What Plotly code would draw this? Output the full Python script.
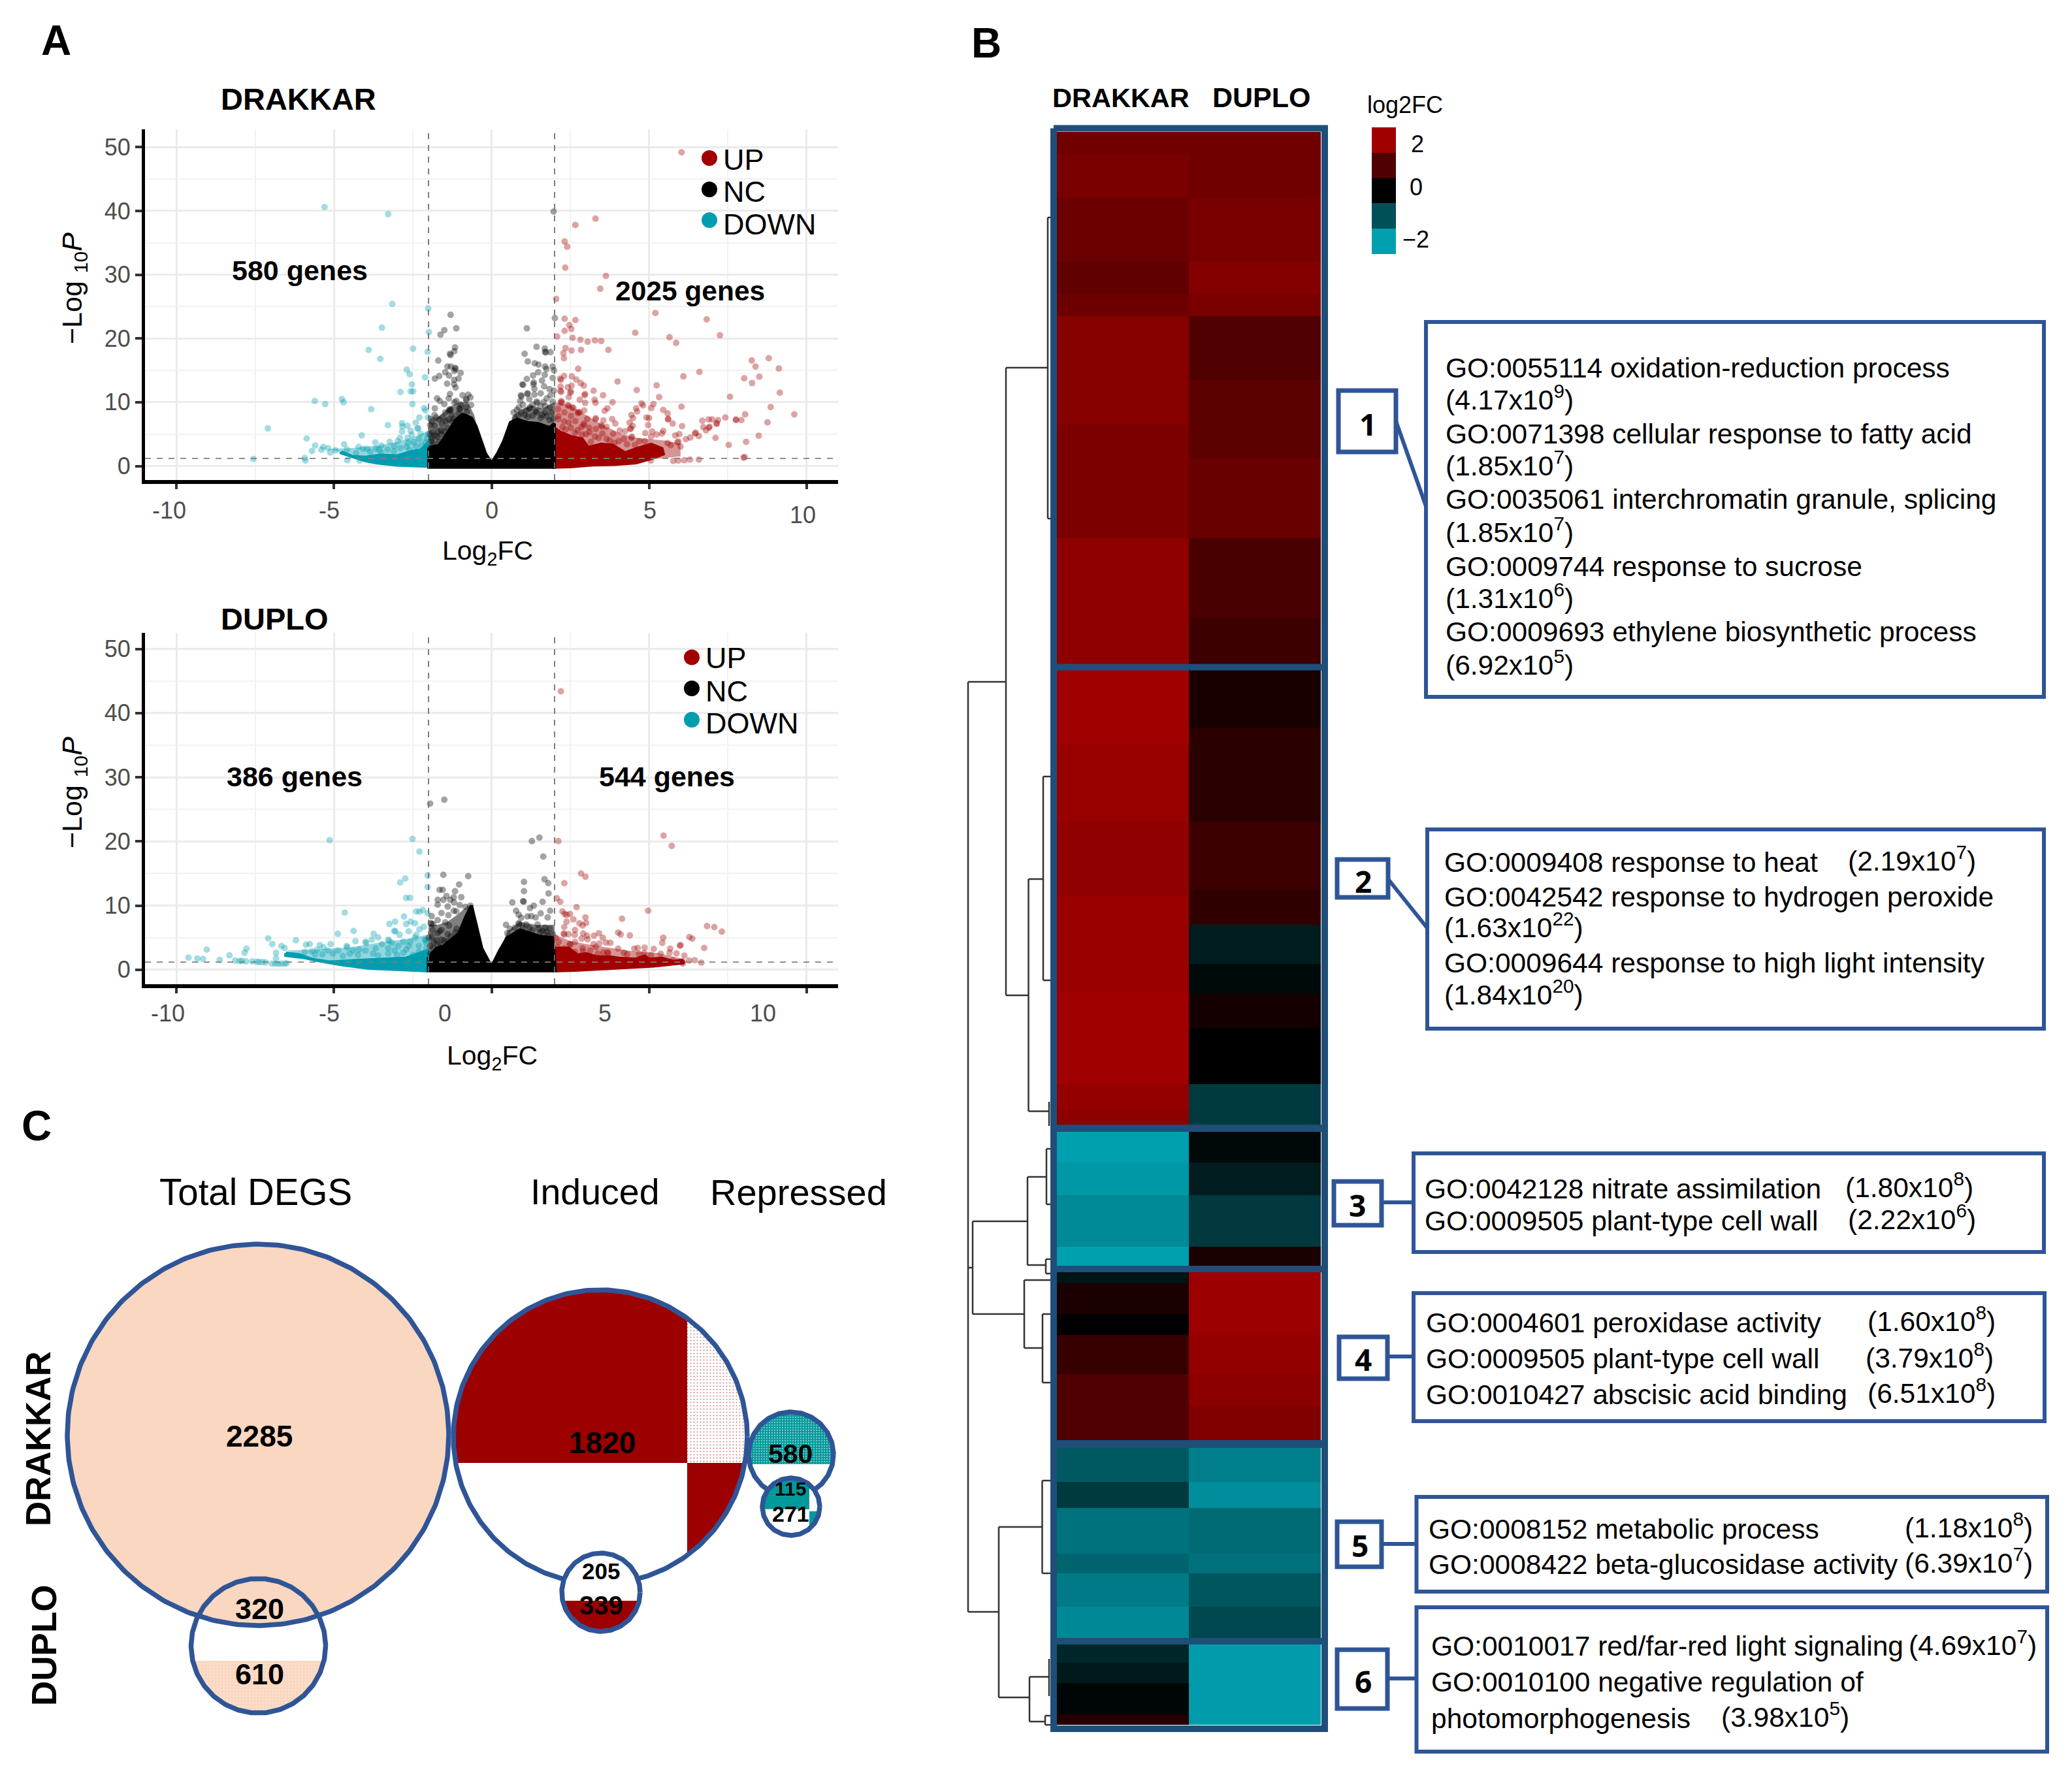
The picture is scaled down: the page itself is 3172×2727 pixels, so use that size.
import numpy as np
import plotly.graph_objects as go

W, H = 3172, 2727
FONT = "Liberation Sans"
RED = "#A00000"
TEAL = "#009DB0"
BLUE = "#2F5597"
NAVY = "#1F4E79"

# ---------- Panel A data (log2FC, -log10 P) ----------
x_ticks = [-10, -5, 0, 5, 10]
y_ticks = [0, 10, 20, 30, 40, 50]
fc_cut = [-2, 2]
p_cut_drakkar = 1.2
p_cut_duplo = 1.2

drakkar_up = [(6.03,49.2),(3.30,38.8),(2.66,37.8),(2.32,35.2),(2.40,34.4),(2.34,31.1),(3.63,29.8),(3.45,27.8),(2.05,26.2),
 (5.2,24),(6.83,23),(2.32,23.1),(2.66,22.9),(2.47,22.1),(2.53,21.5),(2.32,21.2),(4.56,20.9),(7.25,20.5),
 (5.65,20.2),(5.86,19.3),(2.08,20.3),(2.57,20.1),(2.82,19.8),(3.05,19.5),(3.28,19.7),(3.48,19.6),(3.71,18.2),(2.84,18.2),(2.54,18.1),(2.35,18.5),(2.28,17.7),(2.30,16.9),(2.75,15.25),
 (8.26,16.55),(8.80,16.9),(8.38,15.6),(9.12,15.3),(8.02,13.75),(8.50,14.0),(8.27,13.0),(9.15,11.5),(8.86,9.25),(9.61,8.1),(8.76,6.85),(8.48,4.75),(8.08,3.8),(8.05,8.1),(7.93,7.2),(7.76,7.3),(7.76,7.2),(7.57,10.85),(7.42,7.6),(7.53,3.3),(8.03,1.4),(8.0,1.3),
 (6.6,14.75),(6.09,14.05),(5.24,12.65),(5.32,10.8),(4.61,11.9),(4.0,13.25),(6.03,9.3),(5.45,8.8),(5.59,8.25),(5.61,7.4),(5.6,7.3),(5.75,6.65),(6.05,6.25),(5.14,9.7),(5.07,9.1),(4.76,9.8),(4.81,9.5),(4.59,9.05),(4.62,8.55),(4.44,8),(4.49,7.5),(4.92,7.6),(5,7.5),(4.38,6.8),(4.97,6.4),(4.48,6.3),(4.42,5.9),(4.4,5.8),(4.88,5.15),(5.1,5.4),(5.45,5.5),(5.41,5.1),(5.24,4.95),(5.07,4.6),
 (6.69,7.1),(6.89,7.3),(7,7.3),(7.19,7.2),(7.15,6.7),(7.14,6.6),(6.72,6.1),(6.92,6.15),(6.9,6.0),(6.81,5.6),(6.48,5.2),(6.46,5.1),(6.58,4.7),(7.11,4.4),(6.31,4.45),(6.17,4.2),(5.96,5.0),(5.83,4.8),(5.93,3.85),(5.9,3.7),(6,3.05),(5.59,3.6),(5.69,3.25),
 (5.77,.8),(5.93,.85),(6.12,.9),(6.3,1.0),(6.58,1.0),(5.06,.85),
 (3.54,11.1),(3.24,11.8),(2.97,11.3),(2.95,11.1),(3.27,10.4),(3.3,9.9),(3.84,10),(3.68,9.05),(3.59,8.65),(2.97,9.9),(2.8,10.4),(2.55,14.05),(2.3,14.1),(2.18,13.7),(2.2,13.5),(2.69,13.55),(2.83,13),(2.93,12.6),(2.54,12.6),(2.42,12.35),(2.19,12.45),(2.19,11.8),(2.21,11.6),(2.52,11.7),(2.5,11.5),(2.45,10.8),(2.21,10.2),(2.23,10.0),(2.2,9.9),(2.42,9.55),(2.45,9.4),(2.56,9.2),(2.6,9.1),(2.11,8.9),(2.76,8.45),(2.74,8.3),(2.8,8.4),(2.94,8.7),(2.31,8.4),(2.52,7.85),(2.11,7.35),(2.66,7.05),(3.04,7.4),(3.31,7.5),(3.3,7.3),(3.55,7.15),(3.83,7.35),(3.93,6.65),(2.94,6.65),(2.92,6.4),(3.48,6.4),(3.5,6.2),(3.65,6.15),(3.31,5.8),(2.52,6),(2.73,5.6),(2.25,6.1),(4.07,5.55),(4.24,5.45),(3.86,5.05),(3.11,5.3),(3.52,5.1),(4.2,4.25),(4.46,4.6),(4.44,4.4),(4.69,3.9),(4.86,3.9),(4.04,3.9),(3.65,4.25),(3.28,4.6),(2.87,4.95),
 (2.12,7.8),(2.3,7.0),(2.45,6.8),(2.85,6.1),(3.1,6.0),(2.35,5.7),(2.65,5.2),(3.0,5.0),(3.4,4.4),(3.75,4.0),(4.3,3.4),(4.55,3.3),(3.9,3.6),(3.15,3.8)]
drakkar_up_core = [(1.97,6),(2.18,5.3),(2.52,4.6),(2.87,4.25),(3.07,2.9),(3.48,3.4),(3.84,3.25),(4.24,2.05),(4.59,2.7),(5.07,3.4),(5.41,2.7),(5.45,1.9),(5.07,1.2),(4.59,.5),(3.9,.25),(3.2,.17),(2.52,-.1),(1.97,-.17)]
drakkar_up_cloud = [(2,10),(2.5,9.5),(3,8),(3.5,6.5),(4,5.3),(4.5,4.5),(5,4.2),(5.5,4),(6,3.5),(6,1.5),(5,1),(2,0)]

drakkar_down = [(-5.30,40.6),(-3.28,39.5),(-3.15,25.4),(-3.48,21.7),(-3.90,18.2),(-3.53,16.8),(-2.49,18.4),(-2.03,17.9),(-1.99,21.0),(-2.01,24.7),
 (-2.69,15.1),(-2.60,14.4),(-2.11,13.9),(-2.53,12.8),(-2.89,11.6),(-2.57,11.7),(-2.49,11.7),(-5.61,10.2),(-5.28,9.7),(-4.75,10.5),(-4.70,10.0),(-2.51,9.7),(-3.82,8.9),(-2.14,9.1),(-2.10,8.7),(-2.29,7.6),(-2.02,7.6),(-3.29,6.4),(-2.84,6.7),(-2.83,6.2),(-2.67,6.3),(-2.40,6.8),(-2.35,5.9),(-2.33,5.9),(-4.12,4.8),(-5.87,4.3),(-7.1,5.9),(-7.56,1.1),
 (-2.84,5.4),(-2.57,5.5),(-2.25,5.05),(-2.53,4.9),(-2.91,4.4),(-3.23,3.8),(-2.67,4.4),(-3.69,3.7),(-4.68,3.4),(-5.6,3.2),(-5.7,2.35),(-5.4,2.55),(-5.34,3.0),(-5.19,2.8),(-4.96,2.45),(-5.12,2.1),(-5.93,1.26),(-5.91,.85),(-4.59,2.6),(-4.22,3.0),(-4.08,2.7),(-3.5,3.2),(-3.67,2.7),(-3.57,2.55),(-3.09,3.1),(-2.98,3.9),(-2.22,3.2),(-2.47,3.75),(-2.65,3.6),(-2.05,4.3),(-2.02,5.0),(-4.58,.9),(-4.19,.85),
 (-3.3,2.6),(-2.9,2.8),(-2.7,3.0),(-2.4,3.1),(-2.1,3.7),(-3.85,2.2),(-4.3,2.0),(-2.3,4.2),(-2.6,2.5),(-3.1,2.3),(-3.5,2.1),(-3.95,2.7)]
drakkar_down_core = [(-4.77,2.2),(-4.43,1.5),(-4.0,1.35),(-3.53,1.7),(-2.98,1.6),(-2.57,2.2),(-2.22,2.55),(-1.98,3.9),(-1.98,-.05),(-2.57,.05),(-3.0,.15),(-3.67,.5),(-4.0,.85),(-4.43,1.5),(-4.77,2.05)]
drakkar_down_cloud = [(-5.2,2.7),(-4.5,2.8),(-4,3),(-3.5,3.3),(-3,3.8),(-2.5,4.5),(-2,5.5),(-2,0),(-4,.9)]

drakkar_nc = [(1.97,39.9),(2.01,23.2),(-1.5,21.3),(-1.62,20.6),(-1.12,21.6),(1.12,21.6),(-1.16,18.6),(-1.18,18.0),(-1.32,17.6),(-1.30,17.4),(-1.69,16.55),(-1.3,23.7),
 (1.43,18.7),(1.69,18.4),(1.70,17.9),(1.72,17.8),(1.87,17.85),(1.05,17.6),(1.15,16.4),(1.37,16.1),(1.49,15.9),(1.70,15.6),(1.94,15.6),(1.74,15.2),(1.98,15.0),
 (-1.40,15.6),(-1.29,15.6),(-1.16,15.4),(-1.14,15.2),(-1.18,14.9),(-1.47,14.7),(-1.35,14.2),(-.98,14.6),(-1.66,14.1),(-1.80,13.7),(-1.05,13.7),(-1.19,13.5),(-1.41,12.9),(-1.19,12.8),(-1.14,12.3),
 (1.48,14.7),(1.32,14.2),(1.69,14.3),(1.12,13.65),(1.34,13.1),(1.33,12.8),(1.60,13.4),(1.94,13.8),(.98,12.8),(1.0,12.7),(1.36,12.1),(1.67,12.5),(1.84,12.05),(1.15,11.4),(1.13,11.3),(.93,11.1),(.95,10.9),(1.36,11.2),(1.56,11.4),(1.87,11.1),(1.98,11.8),
 (-1.32,11.3),(-1.36,10.6),(-1.73,10.6),(-1.64,10.2),(-.74,11.2),(-.92,11.1),(-.67,10.75),(-.81,10.5),(-.8,10.3),(-1.12,10.2),(-1.5,9.7),(-1.18,10),(-.98,9.65),(-.65,9.55),(-1.8,9.05),(-1.33,8.9),(-1.3,8.8),(-1.35,8.7),(-1.02,9.05),(-1.0,8.9),(-.81,9.2),(-.78,8.5),
 (.91,10.2),(1.43,10.1),(1.45,9.9),(.87,9.2),(1.22,9.2),(1.2,9.0),(1.7,9.4),(1.94,10.1),(.70,8.4),(.94,8.4),(1.43,8.4),(1.4,8.6),(1.70,8.4),(1.91,8.4),
 (-1.81,8.0),(-1.47,8.4),(-1.67,7.3),(-1.88,7),(-1.26,8.0),(-1.36,7.3),(-1.57,6.65),(-1.81,6.3),(-1.4,6),(-1.88,5.3),(-1.6,5.6),(-1.74,4.6),(-1.91,4.3),(-1.67,3.9),(-1.85,3.4),
 (-1.75,7.6),(-1.55,7.6),(-1.2,7.4),(-1.95,6.4),(-1.7,5.4),(-1.5,5.4),(-1.95,5.0),(-1.8,4.8),(-1.6,4.9),(-1.45,7.0),(-1.9,3.9),(-1.25,7.0),(-1.05,8.2),
 (.74,7.5),(1.15,7.7),(1.56,7.5),(1.84,7.2),(.85,7.9),(1.3,7.9),(1.6,8.0),(1.05,8.0),(1.95,7.4),(1.75,7.8),(1.0,9.6),(1.55,9.4),(.8,8.8),(1.1,8.7),(1.3,9.6),(1.85,9.2),(1.65,10.0),(1.2,10.5),(1.75,10.6)]
drakkar_nc_core = [(-1.99,2.9),(-1.67,3.2),(-1.47,4.6),(-1.29,6.0),(-1.12,7.3),(-.92,8.1),(-.64,7.5),(-.50,6.3),(-.37,4.3),(-.19,1.9),(0,.45),(.19,1.9),(.39,3.9),(.60,6.8),(.81,7.3),(1.15,6.8),(1.49,6.65),(1.84,6.0),(1.99,6.65),(1.99,-.17),(-1.99,-.17)]
drakkar_nc_cloud_left = [(-2,8),(-1.75,7.5),(-1.5,8.5),(-1.25,9.5),(-1,10),(-.75,10),(-.55,8),(-.37,4.3),(-.5,0),(-2,0)]
drakkar_nc_cloud_right = [(.39,3.9),(.7,8),(1,9),(1.3,9.5),(1.6,9),(2,10),(2,0),(.39,0)]

duplo_up = [(2.2,43.4),(5.46,20.9),(5.72,19.3),(2.12,20.05),(2.84,15),(2.98,14.5),(2.31,13.5),(2.07,11.15),(2.18,10.6),(2.7,9.75),(4.97,9.2),(2.25,9.1),(2.32,8.7),(2.38,8.55),(2.49,8.7),(4.14,7.95),(2.98,8.15),(2.6,7.85),(2.38,7.5),(3,7.3),(2.79,7.25),(2.89,6.9),(2.31,6.65),(2.65,6.2),(2.29,5.65),(2.31,5.5),(2.44,5.55),(2.64,5.45),(2.91,5.65),(3.03,5.3),(3.05,4.75),(2.86,4.85),(3.25,5.3),(3.41,5.7),(3.53,5),(4.02,5.8),(4.1,5.5),(4.39,5.35),(3.63,4.25),(3.77,4.2),(3.42,4.1),(3.24,4),(3.31,3.55),
 (6.84,6.8),(7.07,6.65),(7.31,5.95),(6.28,5.1),(6.37,4.85),(5.45,5),(5.42,4.2),(6,3.85),(5.98,3.75),(6.75,3.4),(5.67,3.3),(5.15,3.25),(4.86,3.45),(4.53,3.3),(4.64,3.4),(4.02,3.3),(3.68,2.7),(3.7,2.6),(4.2,2.65),(4.68,2.5),(5.06,2.3),(5.37,2.5),(5.65,2.65),(5.87,2.55),(6.12,2.2),(5.75,1.45),(6.45,1.5),(6.27,1.45),(6.06,1.3),(6.05,1.2),(6.66,1.1),(6.07,.95),
 (2.13,4.35),(2.48,4),(2.5,3.9),(2.65,4.35),(2.1,3.5),(2.31,3.35),(2.65,2.8),(2.89,3.35),(3.13,3),(3.37,2.5),(2.03,5),(2.9,2.9),(3.55,2.7),(4.3,2.4),(4.85,2.6)]
duplo_up_core = [(2.02,3.35),(2.45,3.35),(2.72,2.3),(3,2.5),(3.34,2),(3.75,2),(4.03,1.8),(4.58,1.65),(4.86,2.15),(5,1.65),(5.41,1.8),(5.75,1.3),(6.03,1.45),(6.1,1.1),(5.15,.6),(4.58,.45),(3.55,.1),(2.65,-.07),(1.98,-.15)]
duplo_up_cloud = [(2,5.5),(2.5,4.5),(3,4),(3.5,3.6),(4.5,2.9),(5.3,2.6),(6,1.8),(6,1),(5,.5),(2,0)]

duplo_down = [(-5.14,20.2),(-2.51,20.4),(-2.29,18.4),(-2.74,14.2),(-2.9,13.6),(-2.03,14.7),(-2.03,12.9),(-2.71,11.2),(-2.59,11.2),(-4.66,8.9),(-2.39,9.1),(-2.29,9.05),(-2.18,9.3),(-2.03,8.8),(-2.78,8.3),(-3.06,7.5),(-3.24,7.15),(-2.57,7.5),(-2.43,7.25),(-2.71,7.15),(-3.09,6.05),(-3.05,6.0),(-2.29,6.3),(-2.15,6.7),(-2.63,6),(-2.39,5.45),(-2.92,5.45),(-4.38,6.05),(-4.88,5.6),(-3.74,5.6),(-7.09,4.9),(-6.96,4.0),(-6.67,3.7),(-6.57,3.4),(-6.21,4.6),(-9.04,3.15),(-7.78,3.3),(-7.84,2.65),(-8.32,2.25),(-9.62,1.9),(-9.34,1.75),(-9.16,1.7),(-8.63,1.55),(-6.84,2.65),(-6.84,1.8),
 (-5.89,3.9),(-5.77,4),(-5.45,3.85),(-5.11,4),(-5.33,3.5),(-4.6,3.7),(-4.58,3.5),(-4.32,4.45),(-4,4.35),(-3.98,4.2),(-4.2,3.15),(-3.6,5.05),(-3.8,4.7),(-3.28,4.7),(-3.25,4.5),(-3.16,4.2),(-3.48,4),(-2.8,4.35),(-2.59,4.35),(-2.43,5),(-2.11,4.7),(-2.09,4.6),(-2.07,4.2),(-2.31,3.7),(-2.63,3.7),(-2.96,3.7),(-3.28,3.35),(-3.68,3.35),(-4,3),(-4.4,3),(-4.88,3),(-5.2,3),(-5.53,3.15),(-5.93,2.8),(-4.72,2.15),(-4.24,2.3),(-3.76,2.5),(-3.28,2.5),(-2.8,2.65),(-2.31,2.8),(-2.07,3.3),(-2.71,3.15),(-3.08,3),(-5.04,2.5),(-5.37,2.4),
 (-6.97,.95),(-6.87,.95),(-6.77,.9),(-6.67,.95),(-6.57,.95),(-6.5,1.0),(-7.37,1.2),(-7.27,1.2),(-7.17,1.15),(-7.6,1.3),(-7.93,1.4),(-8.14,1.45),(-7.8,1.3),(-8.0,1.35),(-7.45,1.25),(-3.6,2.2),(-3.0,2.3),(-2.5,2.3),(-4.5,2.5),(-5.7,2.9),(-5.6,2.4),(-2.2,2.2),(-2.05,2.6)]
duplo_down_core = [(-6.53,2.6),(-6.09,2.3),(-5.73,1.65),(-5.12,1.2),(-4.32,1.45),(-3.52,1.65),(-2.71,1.8),(-2.03,3.0),(-2.03,-.15),(-3.12,.1),(-3.92,.27),(-4.72,.78),(-5.37,1.3),(-5.93,1.9),(-6.53,2.25)]
duplo_down_cloud = [(-6.5,3),(-5.5,3.2),(-4.5,3.5),(-3.5,4.3),(-2.7,4.8),(-2,5.5),(-2,0),(-4,.3),(-5.4,1.4)]

duplo_nc = [(-1.53,14.8),(-.74,14.6),(-1.03,13.3),(-1.65,12.45),(-1.55,12.45),(-1.16,12.25),(-1.43,11.5),(-1.71,10.9),(-1.53,10.9),(-1.2,11.3),(-.96,11.3),(-1.31,10.9),(-1.71,10.15),(-1.39,9.85),(-1.19,10.5),(-1.01,10.1),(-.83,9.8),(-.67,10),(-1.2,9.2),(-1.59,8.85),(-1.12,9.1),(-1.9,8.35),(-1.37,8.5),(-1.71,7.75),(-1.47,7.4),(-1.91,7.2),(-1.35,6.9),(-1.59,6.2),(-1.87,6.2),(-1.11,6.4),(-1.71,5.7),(-1.99,5),(-1.39,5.55),(-1.83,4.35),(-1.59,4.7),(-1.95,3.7),(-1.71,3.85),(-1.95,2.5),(-1.5,26.5),(-1.95,25.9),
 (-1.93,7.25),(-1.85,7.1),(-1.65,6.0),(-1.3,5.2),(-1.9,5.2),(-1.75,4.6),(-1.5,4.6),(-1.85,3.4),(-1.6,3.9),(-1.4,4.4),(-1.15,5.8),
 (1.28,20.05),(1.52,20.6),(1.64,17.65),(1.03,13.7),(1.68,14.1),(1.8,13.5),(1.03,12.25),(1.81,11.9),(1,10.7),(1.02,10.6),(.66,10.5),(1.62,10.6),(1.34,10),(1.22,9.6),(.78,9.2),(1.86,9.2),(1.56,8.8),(.86,8.6),(1.14,8.3),(1.26,8.35),(1.4,8.15),(.94,8.1),(1.78,8.15),(.86,7.25),(.88,7.1),(.46,7),(1.1,7.05),(1.46,7.05),(.58,6.4),(1.7,6.55),(1.94,5.55),(1.62,6.05),(1.3,6.2),(.74,6.55),(.5,5.7),(1.78,5.4),
 (1.0,6.6),(1.2,6.5),(1.5,6.4),(1.85,6.4),(1.55,5.8),(1.75,5.9)]
duplo_nc_core = [(-2.0,1.97),(-1.75,3.3),(-1.51,3.7),(-1.27,4.7),(-1.03,5.7),(-.83,8.1),(-.64,10),(-.51,7.4),(-.31,3.3),(0,.45),(.26,3),(.5,5),(.9,6.2),(1.22,5.7),(1.54,5.2),(1.94,5),(2.02,-.15),(-2.0,-.15)]
duplo_nc_cloud_left = [(-2,7),(-1.7,7),(-1.4,7.5),(-1.1,8.5),(-.75,10),(-.5,7),(-.31,3.3),(-.31,0),(-2,0)]
duplo_nc_cloud_right = [(.26,3),(.5,6),(.9,7.5),(1.4,7),(2,7),(2,0),(.26,0)]

legend_names = ["UP", "NC", "DOWN"]

# ---------- Panel B data ----------
drakkar_edges = [202,235,302,400,449,484,650,824,1026,1140,1258,1373,1520,1660,1700,1733,1780,1830,1909,1948,1965,2012,2044,2104,2217,2269,2309,2379,2409,2460,2518,2546,2577,2625,2641]
drakkar_log2fc = [1.4,1.5,1.32,1.2,1.35,1.68,1.55,1.78,2.0,1.9,1.8,1.92,2.0,1.85,1.75,-2.0,-1.9,-1.72,-2.0,-.25,.32,.03,.68,1.0,-1.1,-.72,-1.43,-1.25,-1.52,-1.7,-.48,-.32,-.07,.45]
duplo_edges = [202,302,400,449,484,582,702,824,947,1026,1115,1258,1362,1416,1476,1522,1574,1660,1733,1780,1830,1909,1948,2044,2104,2152,2217,2269,2309,2379,2409,2460,2518,2641]
duplo_log2fc = [1.4,1.5,1.65,1.52,1.0,1.15,1.3,.9,.75,.3,.52,.75,.6,-.35,-.12,.25,0,-.72,-.1,-.35,-.7,.32,1.95,1.85,1.75,1.6,-1.58,-1.78,-1.32,-1.41,-1.07,-.9,-1.95]
legend_steps = [2, 1, 0, -1, -2]

# dendrogram branches: (x0, y0, x1, y1)
dendro = [(1604,333,1604,794),(1604,333,1608,333),(1604,794,1608,794),(1540,563,1604,563),(1540,563,1540,1524),(1482,1044,1540,1044),(1482,1044,1482,2468),
 (1540,1524,1574.5,1524),(1574.5,1346,1574.5,1701.5),(1574.5,1346,1597,1346),(1597,1189,1597,1501),(1597,1189,1608,1189),(1597,1501,1608,1501),(1574.5,1701.5,1606,1701.5),(1606,1687,1606,1724),
 (1573,1802,1602,1802),(1602,1759,1602,1844),(1602,1759,1608,1759),(1602,1844,1608,1844),(1573,1802,1573,1937),(1573,1937,1601,1937),(1601,1928,1601,1950),(1601,1928,1608,1928),(1601,1950,1608,1950),
 (1489,1870,1573,1870),(1489,1870,1489,2012),(1489,2012,1568,2012),(1482,1941,1489,1941),(1568,1960,1568,2064),(1568,1960,1608,1960),(1568,2064,1596,2064),(1596,2012,1596,2117),(1596,2012,1608,2012),(1596,2117,1608,2117),
 (1482,2468,1529,2468),(1529,2338,1529,2599),(1529,2338,1595.5,2338),(1595.5,2267,1595.5,2409),(1595.5,2267,1608,2267),(1595.5,2409,1608,2409),(1529,2599,1576,2599),(1576,2567.5,1576,2636),(1576,2567.5,1606,2567.5),(1606,2540,1606,2597),(1576,2636,1600,2636),(1600,2627,1600,2641),(1600,2627,1608,2627),(1600,2641,1608,2641)]

go_terms = {
 1: ["GO:0055114 oxidation-reduction process", "(4.17x10<sup>9</sup>)", "GO:0071398 cellular response to fatty acid", "(1.85x10<sup>7</sup>)", "GO:0035061 interchromatin granule, splicing", "(1.85x10<sup>7</sup>)", "GO:0009744 response to sucrose", "(1.31x10<sup>6</sup>)", "GO:0009693 ethylene biosynthetic process", "(6.92x10<sup>5</sup>)"],
 2: ["GO:0009408 response to heat", "GO:0042542 response to hydrogen peroxide", "(1.63x10<sup>22</sup>)", "GO:0009644 response to high light intensity", "(1.84x10<sup>20</sup>)"],
 3: ["GO:0042128 nitrate assimilation", "GO:0009505 plant-type cell wall"],
 4: ["GO:0004601 peroxidase activity", "GO:0009505 plant-type cell wall", "GO:0010427 abscisic acid binding"],
 5: ["GO:0008152 metabolic process", "GO:0008422 beta-glucosidase activity"],
 6: ["GO:0010017 red/far-red light signaling", "GO:0010100 negative regulation of", "photomorphogenesis"],
}
go_pvalues = {
 2: ["(2.19x10<sup>7</sup>)"],
 3: ["(1.80x10<sup>8</sup>)", "(2.22x10<sup>6</sup>)"],
 4: ["(1.60x10<sup>8</sup>)", "(3.79x10<sup>8</sup>)", "(6.51x10<sup>8</sup>)"],
 5: ["(1.18x10<sup>8</sup>)", "(6.39x10<sup>7</sup>)"],
 6: ["(4.69x10<sup>7</sup>)", "(3.98x10<sup>5</sup>)"],
}

# ---------- Panel C data ----------
venn_headers = ["Total DEGS", "Induced", "Repressed"]
venn_counts = ["2285", "320", "610", "1820", "205", "339", "580", "115", "271"]

# ---------- layout constants (pixel positions on the page) ----------
def dx(a, b): return [a / W, b / W]
def dy(top, bottom): return [1 - bottom / H, 1 - top / H]

fig = go.Figure()
annos, shapes = [], []

def text(x, y, s, size, bold=False, color="black", anchor="center", angle=0, family=FONT):
    if "<sup>" in s:
        y -= 5  # a superscript line box sits lower than a plain one
    annos.append(dict(xref="x5", yref="y5", x=x, y=y, text=f"<b>{s}</b>" if bold else s, showarrow=False,
                      font=dict(size=size, color=color, family=family), xanchor=anchor, yanchor="middle",
                      textangle=angle, borderpad=0, borderwidth=0))

# ---------- volcano panels ----------
def poly_trace(pts, col, xa, ya, lw, opacity=1.0):
    fig.add_trace(go.Scatter(x=[p[0] for p in pts] + [pts[0][0]], y=[p[1] for p in pts] + [pts[0][1]],
                             mode="lines", fill="toself", fillcolor=col, line=dict(width=lw, color=col),
                             opacity=opacity, xaxis=xa, yaxis=ya, showlegend=False, hoverinfo="skip"))

def volcano(xa, ya, up, up_core, up_cloud, down, down_core, down_cloud, nc, nc_core, nc_left, nc_right, pcut):
    for pts, col in [(down_cloud, TEAL), (up_cloud, RED)]:
        poly_trace(pts, col, xa, ya, 0, 0.42)
    for pts in (nc_left, nc_right):
        poly_trace(pts, "black", xa, ya, 0, 0.5)
    for pts, col in [(down_core, TEAL), (up_core, RED), (nc_core, "black")]:
        poly_trace(pts, col, xa, ya, 5)
    for pts, col in [(down, TEAL), (up, RED), (nc, "black")]:
        fig.add_trace(go.Scatter(x=[p[0] for p in pts], y=[p[1] for p in pts], mode="markers",
                                 marker=dict(size=10, color=col, opacity=0.36), xaxis=xa, yaxis=ya,
                                 showlegend=False, hoverinfo="skip"))
    for c in fc_cut:
        shapes.append(dict(type="line", xref=xa, yref=f"{ya} domain", x0=c, x1=c, y0=0, y1=0.99,
                           line=dict(color="#707070", width=1.8, dash="dash")))
    shapes.append(dict(type="line", xref=f"{xa} domain", yref=ya, x0=0, x1=1, y0=pcut, y1=pcut,
                       line=dict(color="#808080", width=1.8, dash="dash")))

volcano("x", "y", drakkar_up, drakkar_up_core, drakkar_up_cloud, drakkar_down, drakkar_down_core, drakkar_down_cloud,
        drakkar_nc, drakkar_nc_core, drakkar_nc_cloud_left, drakkar_nc_cloud_right, p_cut_drakkar)
volcano("x2", "y2", duplo_up, duplo_up_core, duplo_up_cloud, duplo_down, duplo_down_core, duplo_down_cloud,
        duplo_nc, duplo_nc_core, duplo_nc_cloud_left, duplo_nc_cloud_right, p_cut_duplo)

def x_axis(domain, anchor):
    return dict(domain=domain, anchor=anchor, range=[-11, 11], tickmode="array", tickvals=x_ticks, showticklabels=False,
                ticks="outside", ticklen=8, tickwidth=4, tickcolor="#333333",
                showgrid=True, gridcolor="#EBEBEB", gridwidth=3, zeroline=False,
                minor=dict(tickmode="array", tickvals=[-7.5, -2.5, 2.5, 7.5], showgrid=True, gridcolor="#F2F2F2", gridwidth=2, ticks=""),
                showline=True, linecolor="black", linewidth=6)

def y_axis(domain, anchor, rng):
    return dict(domain=domain, anchor=anchor, range=rng, tickmode="array", tickvals=y_ticks,
                tickfont=dict(size=36, color="#4D4D4D", family=FONT),
                ticks="outside", ticklen=10, tickwidth=4, tickcolor="#333333",
                showgrid=True, gridcolor="#EBEBEB", gridwidth=3, zeroline=False,
                minor=dict(tickmode="array", tickvals=[5, 15, 25, 35, 45], showgrid=True, gridcolor="#F2F2F2", gridwidth=2, ticks=""),
                showline=True, linecolor="black", linewidth=5)

layout_axes = dict(
    xaxis=x_axis(dx(222, 1283), "y"), yaxis=y_axis(dy(198, 735), "x", [-2.2, 52.8]),
    xaxis2=x_axis(dx(222, 1283), "y2"), yaxis2=y_axis(dy(969, 1507), "x2", [-2.25, 52.5]),
)

# ---------- heatmap ----------
scale = [[0, "rgb(0,160,176)"], [0.5, "rgb(0,0,0)"], [1, "rgb(160,0,0)"]]
fig.add_trace(go.Heatmap(x=[0, 1], y=drakkar_edges, z=[[v] for v in drakkar_log2fc], zmin=-2, zmax=2, colorscale=scale,
                         showscale=False, xaxis="x3", yaxis="y3", hoverinfo="skip"))
fig.add_trace(go.Heatmap(x=[1, 2], y=duplo_edges, z=[[v] for v in duplo_log2fc], zmin=-2, zmax=2, colorscale=scale,
                         showscale=False, xaxis="x3", yaxis="y3", hoverinfo="skip"))
fig.add_trace(go.Heatmap(x=[0, 1], y=list(range(6)), z=[[v] for v in legend_steps], zmin=-2, zmax=2, colorscale=scale,
                         showscale=False, xaxis="x4", yaxis="y4", hoverinfo="skip"))
hidden = dict(visible=False, showgrid=False, zeroline=False)
layout_axes.update(
    xaxis3=dict(domain=dx(1618, 2022), anchor="y3", range=[0, 2], **hidden),
    yaxis3=dict(domain=dy(202, 2641), anchor="x3", range=[2641, 202], **hidden),
    xaxis4=dict(domain=dx(2100, 2137), anchor="y4", range=[0, 1], **hidden),
    yaxis4=dict(domain=dy(195, 389), anchor="x4", range=[5, 0], **hidden),
    xaxis5=dict(domain=[0, 1], anchor="y5", range=[0, W], **hidden),
    yaxis5=dict(domain=[0, 1], anchor="x5", range=[H, 0], **hidden),
)

# canvas helper traces
def line_trace(xs, ys, color, width):
    fig.add_trace(go.Scatter(x=xs, y=ys, mode="lines", line=dict(color=color, width=width), xaxis="x5", yaxis="y5",
                             showlegend=False, hoverinfo="skip"))

# dendrogram
dxs, dys = [], []
for x0, y0, x1, y1 in dendro:
    dxs += [x0, x1, None]; dys += [y0, y1, None]
line_trace(dxs, dys, "#333333", 2.5)

# heatmap frame
line_trace([1613, 2028, 2028, 1613, 1613], [196.5, 196.5, 2647, 2647, 196.5], NAVY, 10)
for yy, t in [(1021.5, 10), (1727.5, 11), (1943, 10), (2211, 12), (2513, 10)]:
    line_trace([1613, 2028], [yy, yy], NAVY, t)

# ---------- Venn panel ----------
def circle(cx, cy, r, n=360):
    t = np.linspace(0, 2 * np.pi, n, endpoint=False)
    return list(zip(cx + r * np.cos(t), cy + r * np.sin(t)))

def clip(poly, axis, limit, keep_less):
    out = []
    inside = lambda p: (p[axis] <= limit) if keep_less else (p[axis] >= limit)
    for i, p in enumerate(poly):
        q = poly[(i + 1) % len(poly)]
        if inside(p):
            out.append(p)
        if inside(p) != inside(q):
            s = (limit - p[axis]) / (q[axis] - p[axis])
            out.append((p[0] + s * (q[0] - p[0]), p[1] + s * (q[1] - p[1])))
    return out

def region(poly, color=None, pattern=None):
    xs = [p[0] for p in poly] + [poly[0][0]]
    ys = [p[1] for p in poly] + [poly[0][1]]
    kw = dict(fillcolor=color) if color else {}
    if pattern:
        kw["fillpattern"] = pattern
    fig.add_trace(go.Scatter(x=xs, y=ys, mode="lines", line=dict(width=0), fill="toself", xaxis="x5", yaxis="y5",
                             showlegend=False, hoverinfo="skip", **kw))

def ring(poly):
    line_trace([p[0] for p in poly] + [poly[0][0]], [p[1] for p in poly] + [poly[0][1]], BLUE, 7.5)

PEACH = "#FAD7C0"
VRED = "#9C0000"
VTEAL = "#009A9A"
total = circle(395, 2197, 292)
total_d = circle(395.5, 2520, 103)
ind = circle(919, 2200, 225)
ind_d = circle(920, 2438, 60)
rep = circle(1211, 2227, 65)
rep_d = circle(1211, 2307, 44)

region(total_d, "white")
region(total, PEACH)
region(clip(total_d, 1, 2543, False), PEACH, dict(shape=".", bgcolor=PEACH, fgcolor="white", size=5, solidity=0.15))
ring(total); ring(total_d)

upper = clip(ind, 1, 2240, True)
region(clip(upper, 0, 1052, True), VRED)
region(clip(upper, 0, 1052, False), "white", dict(shape=".", bgcolor="white", fgcolor=VRED, size=5, solidity=0.12))
region(clip(clip(ind, 1, 2240, False), 0, 1052, False), VRED)
ring(ind)
region(ind_d, "white")
region(clip(ind_d, 1, 2451, False), VRED)
ring(ind_d)

region(rep, "white")
region(clip(rep, 1, 2242, True), VTEAL, dict(shape=".", bgcolor=VTEAL, fgcolor="white", size=4, solidity=0.25))
ring(rep)
region(rep_d, "white")
region(clip(clip(rep_d, 1, 2311, True), 0, 1239, True), VTEAL)
region(clip(clip(clip(rep_d, 1, 2314, False), 1, 2338, True), 0, 1239, False), VTEAL)
ring(rep_d)

# ---------- volcano legends (dots + text) ----------
for (dotx, ys, tx, ty) in [(1086, [242, 290, 337], 1107, [244, 293, 343]), (1059, [1006.5, 1054, 1102], 1080, [1007.5, 1058.5, 1107])]:
    fig.add_trace(go.Scatter(x=[dotx] * 3, y=ys, mode="markers", marker=dict(size=24, color=[RED, "black", TEAL]),
                             xaxis="x5", yaxis="y5", showlegend=False, hoverinfo="skip"))
    for name, yy in zip(legend_names, ty):
        text(tx, yy, name, 45, anchor="left")

# ---------- boxes ----------
def box(l, t, r, b, width=6):
    shapes.append(dict(type="rect", xref="x5", yref="y5", x0=l, y0=t, x1=r, y1=b, line=dict(color=BLUE, width=width), fillcolor="white", layer="below"))

def connector(x0, y0, x1, y1):
    shapes.append(dict(type="line", xref="x5", yref="y5", x0=x0, y0=y0, x1=x1, y1=y1, line=dict(color=BLUE, width=6)))

box_specs = {
 1: dict(rect=(2183, 493, 3129, 1067), num=(2049, 598, 2137, 692), conn=(2137, 645, 2183, 775), numxy=(2094, 649), tx=2213,
         ys=[563, 614, 664, 715, 764, 817, 867, 918, 967.5, 1020], px=[], py=[]),
 2: dict(rect=(2185, 1270, 3129, 1575), num=(2047, 1316, 2125, 1374), conn=(2125, 1346, 2185, 1421), numxy=(2087, 1349), tx=2211,
         ys=[1320, 1373, 1422, 1474, 1525], px=[2829], py=[1320]),
 3: dict(rect=(2164, 1766, 3129, 1917), num=(2042, 1809, 2115, 1876), conn=(2115, 1841, 2164, 1841), numxy=(2078, 1845), tx=2181,
         ys=[1820, 1869], px=[2825, 2829], py=[1820, 1869]),
 4: dict(rect=(2164, 1980, 3130, 2176), num=(2050, 2047, 2124, 2111), conn=(2124, 2077, 2164, 2077), numxy=(2087, 2081), tx=2183,
         ys=[2025, 2080.5, 2135], px=[2859, 2856, 2859], py=[2025, 2080.5, 2135]),
 5: dict(rect=(2168.5, 2292, 3134, 2437), num=(2047, 2330, 2115, 2399), conn=(2115, 2364, 2168.5, 2364), numxy=(2082, 2366), tx=2187,
         ys=[2341, 2395], px=[2916, 2916], py=[2341, 2395]),
 6: dict(rect=(2168.5, 2461, 3134, 2682), num=(2047, 2526, 2124, 2616), conn=(2124, 2570, 2168.5, 2570), numxy=(2087, 2574), tx=2191,
         ys=[2520.5, 2575, 2631], px=[2922, 2635], py=[2520.5, 2631]),
}
for k, sp in box_specs.items():
    box(*sp["rect"]); box(*sp["num"], width=7); connector(*sp["conn"])
    text(*sp["numxy"], str(k), 46, bold=True, family="Noto Sans")
    for s, yy in zip(go_terms[k], sp["ys"]):
        text(sp["tx"], yy, s, 42.5, anchor="left")
    for s, xx, yy in zip(go_pvalues.get(k, []), sp["px"], sp["py"]):
        text(xx, yy, s, 42.5, anchor="left")

# ---------- texts ----------
text(86, 62, "A", 64, bold=True); text(1510, 66, "B", 64, bold=True); text(56, 1724, "C", 64, bold=True)
text(457, 151, "DRAKKAR", 47, bold=True); text(420, 947, "DUPLO", 47, bold=True)
text(459, 414, "580 genes", 43, bold=True); text(1056, 445, "2025 genes", 42.5, bold=True)
text(451, 1189, "386 genes", 43, bold=True); text(1021, 1189, "544 genes", 43, bold=True)
for lab, xx in zip(["-10", "-5", "0", "5"], [259, 504, 753, 995]):
    text(xx, 781, lab, 36, color="#4D4D4D")
text(1229, 788, "10", 36, color="#4D4D4D")
for lab, xx in zip(["-10", "-5", "0", "5", "10"], [257, 504, 681, 926, 1168]):
    text(xx, 1551, lab, 36, color="#4D4D4D")
text(746, 846, "Log<sub>2</sub>FC", 41); text(753, 1619, "Log<sub>2</sub>FC", 41)
ylab = "−Log <sub>10</sub><i>P</i>"
text(113, 442, ylab, 43, angle=-90); text(113, 1214, ylab, 43, angle=-90)

text(1716, 149, "DRAKKAR", 41.5, bold=True); text(1931, 149, "DUPLO", 43, bold=True)
text(2151, 160, "log2FC", 36)
text(2170, 220, "2", 36); text(2168, 286, "0", 36); text(2167, 366, "−2", 36)

for s, xx, sz in zip(venn_headers, [391, 911, 1222], [56.5, 55.5, 56]):
    text(xx, 1825, s, sz)
text(58, 2203, "DRAKKAR", 53, bold=True, angle=-90); text(67, 2519, "DUPLO", 53, bold=True, angle=-90)
venn_xy = [(397, 2199, 46), (397, 2463, 45), (397, 2563, 45), (922, 2209, 46), (920, 2405, 35), (920, 2458, 40), (1210, 2226, 41), (1210, 2279, 30), (1210, 2318, 34)]
for s, (xx, yy, sz) in zip(venn_counts, venn_xy):
    text(xx, yy, s, sz, bold=True)

fig.update_layout(width=W, height=H, margin=dict(l=0, r=0, t=0, b=0), paper_bgcolor="white", plot_bgcolor="rgba(0,0,0,0)",
                  showlegend=False, annotations=annos, shapes=shapes, font=dict(family=FONT), **layout_axes)
fig.write_html("out.html", config={"displayModeBar": False},
               post_script="document.body.style.margin='0';document.documentElement.style.overflow='hidden';")
